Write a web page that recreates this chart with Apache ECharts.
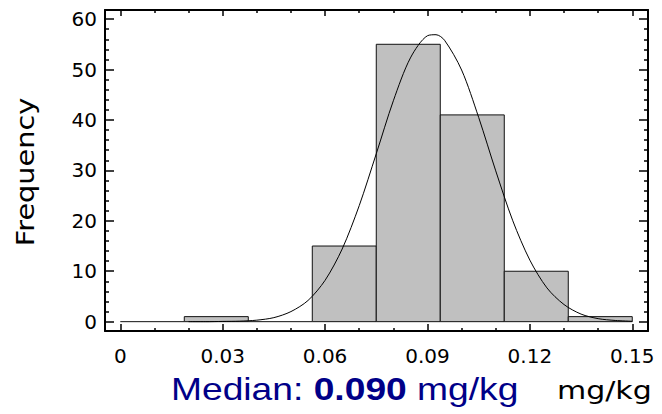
<!DOCTYPE html>
<html>
<head>
<meta charset="utf-8">
<script src="https://cdn.jsdelivr.net/npm/echarts@6/dist/echarts.min.js"></script>
<style>
html,body{margin:0;padding:0;background:#fff;}
#chart{width:662px;height:414px;}
</style>
</head>
<body>
<div id="chart"></div>
<script>
// ---- data ----
const binEdges = [0, 0.01875, 0.0375, 0.05625, 0.075, 0.09375, 0.1125, 0.13125, 0.15];
const binCounts = [0, 1, 0, 15, 55, 41, 10, 1];

// fitted curve, values
const curveX = [0.02, 0.025, 0.03, 0.035, 0.04, 0.045, 0.05, 0.055, 0.06, 0.065, 0.07, 0.075, 0.08, 0.085, 0.09, 0.0925, 0.095, 0.1, 0.105, 0.11, 0.115, 0.12, 0.125, 0.13, 0.135, 0.14, 0.145, 0.15];
const curveY = [0, 0, 0.05, 0.1, 0.3, 0.8, 2.0, 4.2, 8.2, 14.4, 23, 33.3, 43.8, 52.3, 56.7, 56.9, 55.8, 49.9, 40.5, 29.9, 20, 12.2, 6.7, 3.4, 1.5, 0.6, 0.24, 0.08];

const xMajorTicks = [0, 0.03, 0.06, 0.09, 0.12, 0.15];
const xMinorTicks = [0.01, 0.02, 0.04, 0.05, 0.07, 0.08, 0.10, 0.11, 0.13, 0.14];
const yMajorTicks = [0, 10, 20, 30, 40, 50, 60];
const yMinorTicks = [2, 4, 6, 8, 12, 14, 16, 18, 22, 24, 26, 28, 32, 34, 36, 38, 42, 44, 46, 48, 52, 54, 56, 58];

const xRange = [-0.00448, 0.15461];
const yRange = [-1.85, 61.8];

const yAxisTitle = 'Frequency';
const unitLabel = 'mg/kg';
const medianValue = '0.090';

// ---- chart ----
const chart = echarts.init(document.getElementById('chart'), null, {renderer: 'svg'});

const histData = binCounts.map((c, i) => [binEdges[i], binEdges[i + 1], c]);
const curveData = curveX.map((x, i) => [x, curveY[i]]);

const lineStyle = {color: '#000', width: 2};
const tickStyle = {color: '#000', width: 1.5};
const labelFont = {color: '#000', fontSize: 20, fontFamily: 'DejaVu Sans'};

function xAxisDef(pos, ticks, len, withLabels, withLine) {
  return {
    type: 'value', gridIndex: 0, position: pos,
    min: xRange[0], max: xRange[1],
    axisLine: {show: withLine, onZero: false, lineStyle: lineStyle},
    axisTick: {show: true, inside: true, length: len, customValues: ticks, lineStyle: tickStyle},
    axisLabel: withLabels ? Object.assign({
      show: true, margin: 15, customValues: ticks,
      formatter: v => (v === 0 ? '0' : v.toFixed(2))
    }, labelFont) : {show: false},
    splitLine: {show: false},
    minorTick: {show: false}
  };
}
function yAxisDef(pos, ticks, len, withLabels, withLine) {
  return {
    type: 'value', gridIndex: 0, position: pos,
    min: yRange[0], max: yRange[1],
    axisLine: {show: withLine, onZero: false, lineStyle: lineStyle},
    axisTick: {show: true, inside: true, length: len, customValues: ticks, lineStyle: tickStyle},
    axisLabel: withLabels ? Object.assign({
      show: true, margin: 8, customValues: ticks,
      formatter: v => String(Math.round(v))
    }, labelFont) : {show: false},
    splitLine: {show: false},
    minorTick: {show: false}
  };
}

const option = {
  animation: false,
  backgroundColor: '#fff',
  grid: {left: 105, top: 10, right: 14, bottom: 83, containLabel: false},
  xAxis: [
    xAxisDef('bottom', xMajorTicks, 7, true, true),
    xAxisDef('bottom', xMinorTicks, 3, false, false),
    xAxisDef('top', xMajorTicks, 6, false, true),
    xAxisDef('top', xMinorTicks, 3, false, false)
  ],
  yAxis: [
    yAxisDef('left', yMajorTicks, 9, true, true),
    yAxisDef('left', yMinorTicks, 4, false, false),
    yAxisDef('right', yMajorTicks, 9, false, true),
    yAxisDef('right', yMinorTicks, 4, false, false)
  ],
  series: [
    {
      type: 'custom',
      xAxisIndex: 0, yAxisIndex: 0,
      data: histData,
      z: 2,
      renderItem: function (params, api) {
        const x0 = api.value(0), x1 = api.value(1), c = api.value(2);
        const p0 = api.coord([x0, 0]);
        const p1 = api.coord([x1, c]);
        const h = p0[1] - p1[1];
        if (h < 0.5) {
          return {type: 'line', shape: {x1: p0[0], y1: p0[1], x2: p1[0], y2: p0[1]},
                  style: {stroke: '#111', lineWidth: 1}};
        }
        return {
          type: 'rect',
          shape: {x: p0[0], y: p1[1], width: p1[0] - p0[0], height: h},
          style: {fill: '#c0c0c0', stroke: '#111', lineWidth: 1}
        };
      }
    },
    {
      type: 'line',
      xAxisIndex: 0, yAxisIndex: 0,
      data: curveData,
      smooth: 0.3,
      showSymbol: false,
      symbol: 'none',
      z: 3,
      lineStyle: {color: '#000', width: 1},
      clip: true
    }
  ],
  graphic: [
    {
      type: 'text', x: 25, y: 172, rotation: Math.PI / 2, scaleX: 1.15,
      style: {text: yAxisTitle, fontSize: 25, fontFamily: 'DejaVu Sans', fill: '#000', align: 'center', verticalAlign: 'middle'}
    },
    {
      type: 'text', x: 171, y: 389, scaleX: 1.2,
      style: {
        text: '{a|Median: }{b|' + medianValue + '}{a| ' + unitLabel + '}',
        align: 'left', verticalAlign: 'middle',
        rich: {
          a: {fontSize: 31, fontFamily: 'Liberation Sans', fill: '#000088'},
          b: {fontSize: 31, fontFamily: 'Liberation Sans', fontWeight: 'bold', fill: '#000088'}
        }
      }
    },
    {
      type: 'text', x: 557, y: 391, scaleX: 1.25,
      style: {text: unitLabel, fontSize: 24, fontFamily: 'DejaVu Sans', fill: '#000', align: 'left', verticalAlign: 'middle'}
    }
  ]
};
chart.setOption(option);
</script>
</body>
</html>
